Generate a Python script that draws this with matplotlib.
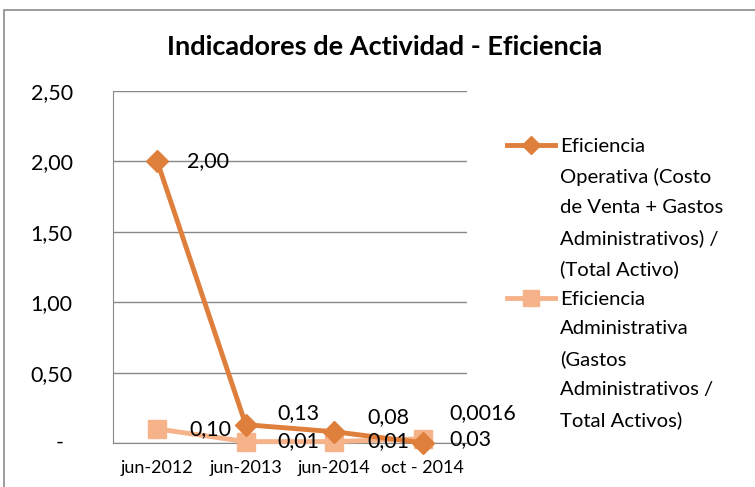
import matplotlib
matplotlib.use('Agg')
import matplotlib.pyplot as plt
from matplotlib.lines import Line2D
from matplotlib.patches import Rectangle

plt.rcParams['font.family'] = ['Lato', 'DejaVu Sans']

categorias = ['jun-2012', 'jun-2013', 'jun-2014', 'oct - 2014']
operativa = [2.00, 0.13, 0.08, 0.0016]
administrativa = [0.10, 0.01, 0.01, 0.03]
etiquetas_op = ['2,00', '0,13', '0,08', '0,0016']
etiquetas_adm = ['0,10', '0,01', '0,01', '0,03']
yticks = [0, 0.5, 1.0, 1.5, 2.0, 2.5]
ytick_labels = ['', '0,50', '1,00', '1,50', '2,00', '2,50']
nombre_op = ('Eficiencia\nOperativa (Costo\nde Venta + Gastos\n'
             'Administrativos) /\n(Total Activo)')
nombre_adm = ('Eficiencia\nAdministrativa\n(Gastos\n'
              'Administrativos /\nTotal Activos)')

c_op = '#DE7F3B'
c_adm = '#F6B38A'
gris = '#888888'

fig = plt.figure(figsize=(7.55, 4.87), dpi=100)
fig.patches.append(Rectangle((4 / 755, -0.1), 1.2, 1.1 - 10 / 487,
                             transform=fig.transFigure, fill=False,
                             edgecolor='#8c8c8c', lw=1.2))
ax = fig.add_axes([113 / 755, 1 - 443 / 487, 354 / 755, 352 / 487])

x = list(range(len(categorias)))
ax.plot(x, administrativa, color=c_adm, lw=3.5, marker='s', ms=13,
        zorder=3)
ax.plot(x, operativa, color=c_op, lw=3.5, marker='D', ms=11, zorder=4)

# etiquetas de datos (desplazamiento en pixeles)
off_op = [(30, 0), (32, 12), (33, 15), (27, 30)]
off_adm = [(32, 0), (32, 0), (33, 0), (27, 0)]
for i in x:
    ax.annotate(etiquetas_op[i], (x[i], operativa[i]), xytext=off_op[i],
                textcoords='offset pixels', va='center', ha='left',
                fontsize=15.5, zorder=5)
    ax.annotate(etiquetas_adm[i], (x[i], administrativa[i]),
                xytext=off_adm[i], textcoords='offset pixels',
                va='center', ha='left', fontsize=15.5, zorder=5)

ax.set_xlim(-0.5, 3.5)
ax.set_ylim(0, 2.5)
ax.set_yticks(yticks)
ax.set_yticklabels(ytick_labels, fontsize=15.5)
# el cero se muestra como guion (formato contable)
ax.annotate('-', (0, 0), xycoords=('axes fraction', 'data'),
            xytext=(-53, 0), textcoords='offset pixels', ha='center',
            va='center', fontsize=15.5)
ax.set_xticks(x)
ax.set_xticklabels(categorias, fontsize=13)
ax.tick_params(axis='y', length=0, pad=29)
ax.tick_params(axis='x', length=0, pad=12)
ax.grid(axis='y', color=gris, lw=1)
ax.set_axisbelow(True)
for s in ['top', 'right']:
    ax.spines[s].set_visible(False)
ax.spines['left'].set_color(gris)
ax.spines['bottom'].set_color(gris)
for art in ax.lines + ax.texts:
    art.set_clip_on(False)

fig.text(0.51, 1 - 47 / 487, 'Indicadores de Actividad - Eficiencia',
         ha='center', va='center', fontsize=19.5, fontweight='bold')

# leyenda
for nombre, color, mk, ms, ytop in [(nombre_op, c_op, 'D', 9, 145),
                                     (nombre_adm, c_adm, 's', 11, 298)]:
    yf = 1 - ytop / 487
    fig.add_artist(Line2D([507 / 755, 555 / 755], [yf, yf], color=color,
                          lw=3.5, transform=fig.transFigure))
    fig.add_artist(Line2D([531 / 755], [yf], color=color, marker=mk, ms=ms,
                          transform=fig.transFigure))
    fig.text(560 / 755, yf + 7 / 487, nombre, ha='left', va='top',
             fontsize=14.6, linespacing=1.88)

fig.savefig('out.png', dpi=100)
